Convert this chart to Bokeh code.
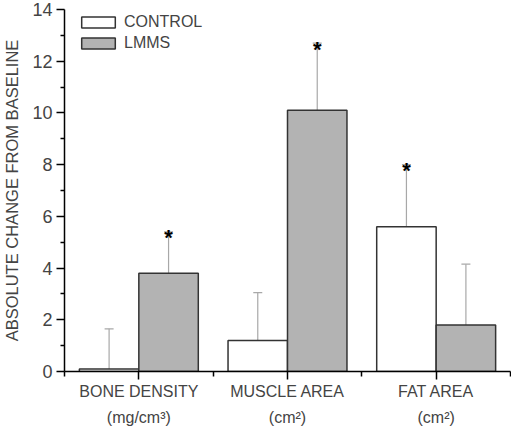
from bokeh.plotting import figure
from bokeh.models import (ColumnDataSource, Range1d, FixedTicker, LinearAxis,
                          Whisker, TeeHead, Legend, LegendItem)
from bokeh.transform import dodge
from bokeh.core.properties import value
from bokeh.embed import file_html
from bokeh.resources import INLINE

categories = ["BONE DENSITY", "MUSCLE AREA", "FAT AREA"]
units = ["(mg/cm\u00b3)", "(cm\u00b2)", "(cm\u00b2)"]
positions = [1, 2, 3]

control_mean = [0.1, 1.2, 5.6]
control_err = [1.55, 1.85, 2.4]
control_sig = [False, False, True]

lmms_mean = [3.8, 10.1, 1.8]
lmms_err = [1.6, 2.6, 2.35]
lmms_sig = [True, True, False]

y_ticks = [0, 2, 4, 6, 8, 10, 12, 14]

FONT = "Liberation Sans"

def make_source(means, errs, sigs):
    upper = [m + e for m, e in zip(means, errs)]
    star = ["*" if s else "" for s in sigs]
    return ColumnDataSource(dict(x=positions, top=means, upper=upper, star=star))

src_c = make_source(control_mean, control_err, control_sig)
src_l = make_source(lmms_mean, lmms_err, lmms_sig)

p = figure(width=511, height=428, output_backend="svg", toolbar_location=None,
           x_range=Range1d(0.5, 3.5), y_range=Range1d(0, 14),
           x_axis_type=None, min_border_top=9, min_border_left=60,
           min_border_right=1, min_border_bottom=0)
p.background_fill_color = "white"
p.border_fill_color = "white"
p.outline_line_color = None
p.xgrid.visible = False
p.ygrid.visible = False

BAR_W = 0.4
r_c = p.vbar(x=dodge("x", -0.2), top="top", bottom=0, width=BAR_W, source=src_c,
             fill_color="white", line_color="#333333", line_width=1.5)
r_l = p.vbar(x=dodge("x", 0.2), top="top", bottom=0, width=BAR_W, source=src_l,
             fill_color="#b3b3b3", line_color="#333333", line_width=1.5)

for src, off in ((src_c, -0.2), (src_l, 0.2)):
    w = Whisker(base=dodge("x", off), lower="top", upper="upper", source=src,
                line_color="#a8a8a8", line_width=1.2,
                upper_head=TeeHead(size=9, line_color="#a8a8a8", line_width=1.2),
                lower_head=None, level="underlay")
    p.add_layout(w)
    p.text(x=dodge("x", off), y="upper", text="star", source=src,
           text_align="center", text_baseline="alphabetic", y_offset=6,
           text_font=value(FONT), text_font_size="22px", text_font_style="bold",
           text_color="black")

# y axis
ya = p.yaxis[0]
ya.ticker = FixedTicker(ticks=y_ticks, minor_ticks=[1, 3, 5, 7, 9, 11, 13])
ya.axis_label = "ABSOLUTE CHANGE FROM BASELINE"
ya.axis_label_text_font = FONT
ya.axis_label_text_font_size = "16.5px"
ya.axis_label_text_font_style = "normal"
ya.axis_label_standoff = 8
ya.major_label_text_font = FONT
ya.major_label_text_font_size = "18px"
ya.major_label_standoff = 4
ya.major_tick_out = 8
ya.major_tick_in = 0
ya.minor_tick_out = 4
ya.minor_tick_in = 0
ya.axis_line_color = "black"
ya.axis_line_width = 1.5
ya.major_tick_line_width = 1.5
ya.minor_tick_line_width = 1.5

# x axis (categories)
xa = LinearAxis(ticker=FixedTicker(ticks=positions, minor_ticks=[0.5, 1.5, 2.5, 3.5]),
                major_label_overrides={pos: c for pos, c in zip(positions, categories)})
xa.major_label_text_font = FONT
xa.major_label_text_font_size = "16px"
xa.major_label_standoff = 3
xa.axis_label_standoff = 0
xa.major_tick_out = 8
xa.major_tick_in = 0
xa.minor_tick_out = 5
xa.minor_tick_in = 0
xa.axis_line_color = "black"
xa.axis_line_width = 1.5
xa.major_tick_line_width = 1.5
xa.minor_tick_line_width = 1.5
p.add_layout(xa, "below")

# x axis (units)
xu = LinearAxis(ticker=FixedTicker(ticks=positions, minor_ticks=[]),
                major_label_overrides={pos: u for pos, u in zip(positions, units)})
xu.major_label_text_font = FONT
xu.major_label_text_font_size = "16px"
xu.major_label_standoff = 6
xu.axis_label_standoff = 0
xu.major_tick_out = 0
xu.major_tick_in = 0
xu.minor_tick_out = 0
xu.axis_line_color = None
xu.major_tick_line_color = None
xu.minor_tick_line_color = None
p.add_layout(xu, "below")

legend = Legend(items=[LegendItem(label="CONTROL", renderers=[r_c]),
                       LegendItem(label="LMMS", renderers=[r_l])],
                location=(13, 319))
legend.glyph_width = 42
legend.glyph_height = 14
legend.label_height = 14
legend.label_text_font = FONT
legend.label_text_font_size = "16px"
legend.label_text_baseline = "middle"
legend.label_standoff = 5
legend.spacing = 3
legend.padding = 0
legend.margin = 0
legend.border_line_color = None
legend.background_fill_alpha = 0
p.add_layout(legend)

open("out.html", "w").write(file_html(p, INLINE))
